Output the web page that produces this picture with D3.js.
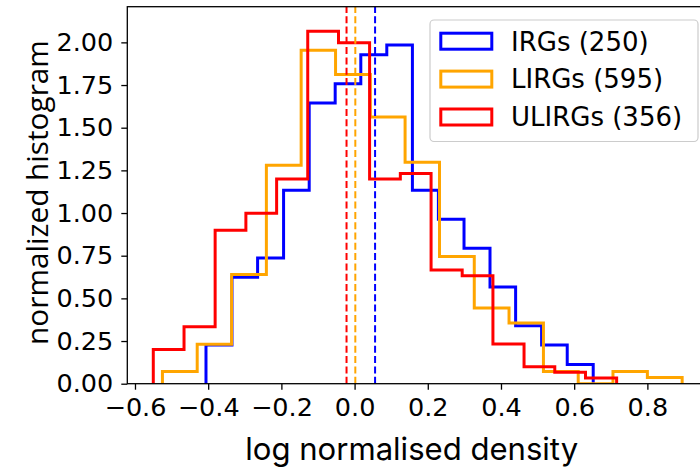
<!DOCTYPE html>
<html>
<head>
<meta charset="utf-8">
<script src="https://cdn.jsdelivr.net/npm/d3@7"></script>
<style>
  body { margin: 0; background: #fff; }
  svg { display: block; }
</style>
</head>
<body>
<div id="chart"></div>
<script>
// bin edges (15 bins per sample)
const irgEdges = [-0.406, -0.335, -0.265, -0.194, -0.124, -0.053, 0.017, 0.088, 0.158, 0.229, 0.299, 0.370, 0.440, 0.511, 0.581, 0.652];
const lirgEdges = [-0.525, -0.430, -0.336, -0.241, -0.146, -0.052, 0.043, 0.138, 0.232, 0.327, 0.422, 0.516, 0.611, 0.706, 0.800, 0.895];
const ulirgEdges = [-0.550, -0.466, -0.381, -0.297, -0.213, -0.128, -0.044, 0.041, 0.125, 0.209, 0.294, 0.378, 0.463, 0.547, 0.631, 0.716];

// normalized histogram heights
const irgValues = [0.227, 0.624, 0.737, 1.134, 1.645, 1.758, 1.928, 1.985, 1.134, 0.964, 0.794, 0.567, 0.340, 0.227, 0.113];
const lirgValues = [0.071, 0.231, 0.640, 1.280, 1.954, 1.812, 1.563, 1.297, 0.746, 0.444, 0.355, 0.071, 0.0, 0.071, 0.036];
const ulirgValues = [0.200, 0.333, 0.899, 0.999, 1.199, 2.065, 1.998, 1.199, 1.232, 0.666, 0.633, 0.233, 0.100, 0.067, 0.033];

// median lines
const medians = [0.056, 0.002, -0.022];

const seriesNames = ["IRGs (250)", "LIRGs (595)", "ULIRGs (356)"];
const seriesColors = ["#0000ff", "#ffa500", "#ff0000"];

const xTicks = [-0.6, -0.4, -0.2, 0.0, 0.2, 0.4, 0.6, 0.8];
const yTicks = [0, 0.25, 0.5, 0.75, 1.0, 1.25, 1.5, 1.75, 2.0];
const xLimits = [-0.621, 0.973];
const yLimits = [0, 2.209];

const width = 700;
const height = 470;
const plotLeft = 127.3, plotRight = 710.7, plotTop = 6.7, plotBottom = 383.7;

const svg = d3.select("#chart")
  .append("svg")
  .attr("width", width)
  .attr("height", height);

const x = d3.scaleLinear().domain(xLimits).range([plotLeft, plotRight]);
const y = d3.scaleLinear().domain(yLimits).range([plotBottom, plotTop]);

const tickFont = "DejaVu Sans, sans-serif";

// histograms, drawn as open steps like histtype='step'
const hists = [
  { edges: irgEdges, values: irgValues },
  { edges: lirgEdges, values: lirgValues },
  { edges: ulirgEdges, values: ulirgValues }
];

const stepPoints = (h) => {
  const pts = [[h.edges[0], 0]];
  h.values.forEach((v, i) => {
    pts.push([h.edges[i], v]);
    pts.push([h.edges[i + 1], v]);
  });
  pts.push([h.edges[h.edges.length - 1], 0]);
  return pts;
};

const line = d3.line().x(d => x(d[0])).y(d => y(d[1]));

svg.append("defs").append("clipPath").attr("id", "plotclip")
  .append("rect")
  .attr("x", plotLeft).attr("y", plotTop)
  .attr("width", plotRight - plotLeft).attr("height", plotBottom - plotTop);

const plot = svg.append("g").attr("clip-path", "url(#plotclip)");

plot.selectAll("path.hist")
  .data(hists)
  .enter()
  .append("path")
  .attr("class", "hist")
  .attr("d", d => line(stepPoints(d)))
  .attr("fill", "none")
  .attr("stroke", (d, i) => seriesColors[i])
  .attr("stroke-width", 3)
  .attr("stroke-linejoin", "miter");

plot.selectAll("line.median")
  .data(medians)
  .enter()
  .append("line")
  .attr("class", "median")
  .attr("x1", d => x(d)).attr("x2", d => x(d))
  .attr("y1", y(yLimits[0])).attr("y2", y(yLimits[1]))
  .attr("stroke", (d, i) => seriesColors[i])
  .attr("stroke-width", 2)
  .attr("stroke-dasharray", "7,3.3");

// axes
const xAxis = svg.append("g")
  .attr("transform", `translate(0,${plotBottom})`)
  .call(d3.axisBottom(x).tickValues(xTicks).tickFormat(d3.format(".1f")).tickSize(6).tickPadding(8));

const yAxis = svg.append("g")
  .attr("transform", `translate(${plotLeft},0)`)
  .call(d3.axisLeft(y).tickValues(yTicks).tickFormat(d3.format(".2f")).tickSize(6).tickPadding(8));

[xAxis, yAxis].forEach(ax => {
  ax.select(".domain").remove();
  ax.selectAll(".tick line").attr("stroke", "#000").attr("stroke-width", 1.3);
  ax.selectAll(".tick text")
    .attr("fill", "#000")
    .style("font-family", tickFont)
    .style("font-size", "25.5px");
});

// frame (right spine falls outside the picture)
svg.append("rect")
  .attr("x", plotLeft).attr("y", plotTop)
  .attr("width", plotRight - plotLeft).attr("height", plotBottom - plotTop)
  .attr("fill", "none")
  .attr("stroke", "#000")
  .attr("stroke-width", 1.3);

// axis labels
const fitText = (sel, target) => {
  const w = sel.node().getComputedTextLength();
  const fs = parseFloat(sel.style("font-size"));
  sel.style("font-size", (fs * target / w) + "px");
};

const xLabel = svg.append("text")
  .attr("x", 411.7)
  .attr("y", 460)
  .attr("text-anchor", "middle")
  .style("font-family", "Inter, sans-serif")
  .style("font-size", "28px")
  .attr("fill", "#000")
  .text("log normalised density");
fitText(xLabel, 333);

const yLabel = svg.append("text")
  .attr("transform", "translate(48,192.5) rotate(-90)")
  .attr("text-anchor", "middle")
  .style("font-family", "Open Sans, sans-serif")
  .style("font-size", "28px")
  .attr("fill", "#000")
  .text("normalized histogram");
fitText(yLabel, 305);

// legend
const legend = svg.append("g");
legend.append("rect")
  .attr("x", 430).attr("y", 20)
  .attr("width", 268).attr("height", 121.5)
  .attr("rx", 4)
  .attr("fill", "#fff")
  .attr("fill-opacity", 0.8)
  .attr("stroke", "#cccccc")
  .attr("stroke-width", 1.2);

const items = legend.selectAll("g.item")
  .data(seriesNames)
  .enter()
  .append("g")
  .attr("class", "item")
  .attr("transform", (d, i) => `translate(0,${i * 37.9})`);

items.append("rect")
  .attr("x", 440.8).attr("y", 33.2)
  .attr("width", 51).attr("height", 16)
  .attr("fill", "none")
  .attr("stroke", (d, i) => seriesColors[i])
  .attr("stroke-width", 3);

items.append("text")
  .attr("x", 511)
  .attr("y", 50.5)
  .style("font-family", tickFont)
  .style("font-size", "26px")
  .attr("fill", "#000")
  .text(d => d);
</script>
</body>
</html>
